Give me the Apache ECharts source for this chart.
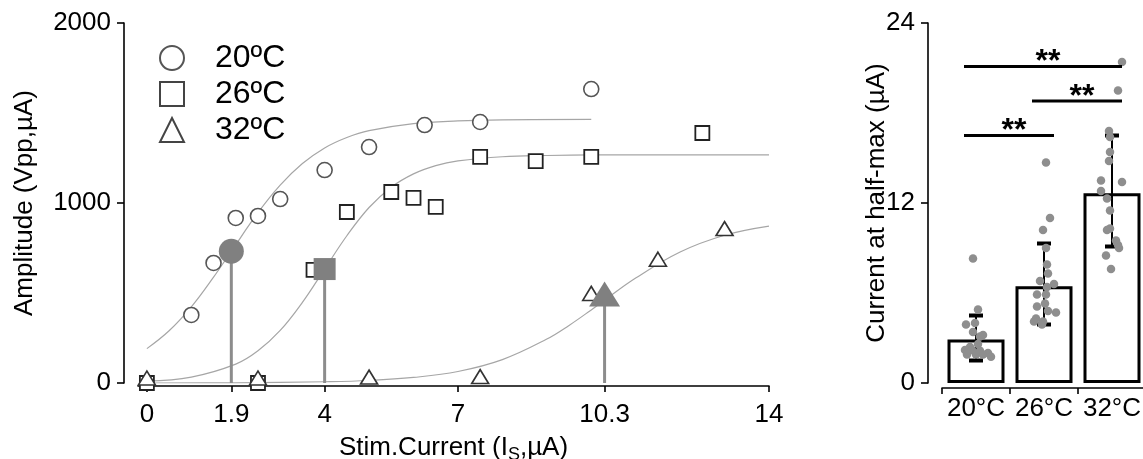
<!DOCTYPE html>
<html><head><meta charset="utf-8">
<script src="https://cdn.jsdelivr.net/npm/echarts@6/dist/echarts.min.js"></script>
<style>html,body{margin:0;padding:0;background:#fff}#c{width:1143px;height:459px}</style>
</head><body><div id="c"></div>
<script>
// ---------------- data: left panel ----------------
const seriesNames = ['20ºC', '26ºC', '32ºC'];
const xTickValues = [0, 1.9, 4, 7, 10.3, 14];
const c20X = [1, 1.5, 2, 2.5, 3, 4, 5, 6.25, 7.5, 10];
const c20Y = [378, 667, 917, 928, 1022, 1183, 1311, 1433, 1450, 1633];
const c26X = [0, 2.5, 3.75, 4.5, 5.5, 6, 6.5, 7.5, 8.75, 10, 12.5];
const c26Y = [0, 0, 628, 950, 1061, 1028, 978, 1256, 1233, 1256, 1389];
const c32X = [0, 2.5, 5, 7.5, 10, 11.5, 13];
const c32Y = [0, 0, 5, 8, 470, 660, 830];
// fitted curves
const fit20X = [0, 0.5, 1, 1.5, 1.9, 2.5, 3, 3.5, 4, 4.5, 5, 6, 7, 8, 10];
const fit20Y = [191, 290, 423, 588, 732, 946, 1099, 1219, 1306, 1364, 1402, 1441, 1456, 1462, 1465];
const fit26X = [0, 1, 2, 2.5, 3, 3.5, 4, 4.5, 5, 5.5, 6, 6.5, 7, 8, 9, 10, 12, 14];
const fit26Y = [10, 33, 105, 179, 292, 448, 633, 818, 975, 1088, 1162, 1208, 1234, 1257, 1264, 1267, 1267, 1267];
const fit32X = [0, 2, 4, 5, 6, 7, 8, 9, 9.5, 10, 10.3, 11, 12, 13, 14];
const fit32Y = [0, 1, 7, 14, 31, 64, 130, 244, 320, 406, 460, 583, 728, 821, 872];
const halfMaxX = [1.9, 4, 10.3];
const halfMaxY = [732, 633, 472];

// ---------------- data: right panel ----------------
const groups = ['20°C', '26°C', '32°C'];
const meanVals = [2.9, 6.45, 12.65];
const errUpper = [4.5, 9.3, 16.5];
const errLower = [1.5, 3.9, 9.1];
const dots20 = [8.3, 4.9, 4.0, 3.9, 3.4, 3.2, 3.1, 2.6, 2.4, 2.2, 2.2, 2.15, 2.0, 1.9, 1.9, 1.9, 1.75];
const dots26 = [14.7, 11.0, 10.2, 9.0, 7.9, 7.3, 6.8, 6.6, 6.4, 5.9, 5.9, 5.3, 5.1, 4.7, 4.8, 4.3, 4.1, 4.1, 3.9];
const dots32 = [21.4, 19.5, 16.8, 16.4, 15.4, 14.8, 13.5, 13.4, 12.8, 12.3, 11.5, 10.3, 10.2, 9.5, 9.2, 9.0, 8.5, 7.6];
const sigFrom = [0, 1, 0];
const sigTo = [2, 2, 1];
const sigLevel = [21.1, 18.8, 16.5];
const sigText = ['**', '**', '**'];

// ---------------- layout (not data) ----------------
const jitterPx = [
  [-3, 2, -1, -10, -3, 7, 4, 2, -6, -11, -4, 4, 12, -9, 0, 7, 15],
  [2, 6, -1, 2, 3, 4, -4, 10, 3, -7, 2, 1, -7, 12, 4, -8, -1, -10, -2],
  [10, 6, -3, -2, -2, -3, -11, 10, -11, -5, -2, -2, -5, 4, 6, 7, -6, -1]
];
const CAT_PX = 68;
const FONT = 'Liberation Sans, Arial, sans-serif';

const zip = (a, b) => a.map((v, i) => [v, b[i]]);
const dotsAll = [dots20, dots26, dots32];
const dotData = [];
dotsAll.forEach((arr, g) => arr.forEach((v, i) => dotData.push([g + jitterPx[g][i] / CAT_PX, v])));

const fitStyle = { color: '#a6a6a6', width: 1.2 };
const axisLineStyle = { color: '#000', width: 1.6 };
const plain = v => String(v);

const chart = echarts.init(document.getElementById('c'), null, { renderer: 'canvas' });
const option = {
  animation: false,
  textStyle: { fontFamily: FONT },
  grid: [
    { left: 138, top: 23, width: 631, height: 360, outerBoundsMode: 'none', containLabel: false },
    { left: 942, top: 23, width: 204, height: 360, outerBoundsMode: 'none', containLabel: false }
  ],
  legend: {
    orient: 'vertical', left: 154, top: 37,
    itemWidth: 24, itemHeight: 24, itemGap: 4,
    selectedMode: false,
    textStyle: { fontSize: 32, color: '#000', fontFamily: FONT, padding: [0, 0, 0, 26], lineHeight: 30 },
    data: [
      { name: seriesNames[0], icon: 'circle', itemStyle: { color: '#fff', borderColor: '#555', borderWidth: 2 } },
      { name: seriesNames[1], icon: 'rect', itemStyle: { color: '#fff', borderColor: '#444', borderWidth: 2 } },
      { name: seriesNames[2], icon: 'triangle', itemStyle: { color: '#fff', borderColor: '#444', borderWidth: 2 } }
    ]
  },
  xAxis: [
    {
      type: 'value', gridIndex: 0, min: -0.2, max: 14, offset: 3,
      name: '{m|Stim.Current (I}{s|S}{m|,µA)}', nameLocation: 'middle', nameGap: 43,
      nameTextStyle: { color: '#000', fontFamily: FONT, rich: {
        m: { fontSize: 26, lineHeight: 27, verticalAlign: 'top', color: '#000', fontFamily: FONT },
        s: { fontSize: 18, lineHeight: 18, padding: [13, 0, 0, 0], color: '#000', fontFamily: FONT }
      } },
      splitLine: { show: false },
      axisLine: { show: true, onZero: false, lineStyle: axisLineStyle },
      axisTick: { show: true, length: 6, lineStyle: axisLineStyle, customValues: xTickValues },
      axisLabel: { fontSize: 26, color: '#000', margin: 16, customValues: xTickValues, fontFamily: FONT, formatter: plain }
    },
    {
      type: 'category', gridIndex: 1, data: groups, offset: 5,
      axisLine: { show: true, onZero: false, lineStyle: axisLineStyle },
      axisTick: { show: true, length: 6, lineStyle: axisLineStyle },
      axisLabel: { fontSize: 26, color: '#000', margin: 8, fontFamily: FONT, interval: 0 }
    },
    { type: 'value', gridIndex: 1, min: -0.5, max: 2.5, show: false }
  ],
  yAxis: [
    {
      type: 'value', gridIndex: 0, min: 0, max: 2000, interval: 1000, offset: 14,
      name: 'Amplitude (Vpp,µA)', nameLocation: 'middle', nameGap: 86,
      nameTextStyle: { fontSize: 26, color: '#000', fontFamily: FONT },
      splitLine: { show: false },
      axisLine: { show: true, onZero: false, lineStyle: axisLineStyle },
      axisTick: { show: true, length: 7, lineStyle: axisLineStyle },
      axisLabel: { fontSize: 26, color: '#000', margin: 13, fontFamily: FONT, formatter: plain }
    },
    {
      type: 'value', gridIndex: 1, min: 0, max: 24, interval: 12, offset: 14,
      name: 'Current at half-max (µA)', nameLocation: 'middle', nameGap: 38, nameMoveOverlap: false,
      nameTextStyle: { fontSize: 26, color: '#000', fontFamily: FONT },
      splitLine: { show: false },
      axisLine: { show: true, onZero: false, lineStyle: axisLineStyle },
      axisTick: { show: true, length: 7, lineStyle: axisLineStyle },
      axisLabel: { fontSize: 26, color: '#000', margin: 13, fontFamily: FONT, formatter: plain }
    }
  ],
  series: [
    // fitted curves
    { type: 'line', xAxisIndex: 0, yAxisIndex: 0, data: zip(fit20X, fit20Y), smooth: 0.4, showSymbol: false, silent: true, lineStyle: fitStyle, z: 1 },
    { type: 'line', xAxisIndex: 0, yAxisIndex: 0, data: zip(fit26X, fit26Y), smooth: 0.4, showSymbol: false, silent: true, lineStyle: fitStyle, z: 1 },
    { type: 'line', xAxisIndex: 0, yAxisIndex: 0, data: zip(fit32X, fit32Y), smooth: 0.4, showSymbol: false, silent: true, lineStyle: fitStyle, z: 1 },
    // open markers
    { name: seriesNames[1], type: 'scatter', xAxisIndex: 0, yAxisIndex: 0, data: zip(c26X, c26Y), symbol: 'rect', symbolSize: 14,
      itemStyle: { color: '#fff', borderColor: '#222', borderWidth: 1.8, opacity: 1 }, z: 3 },
    { name: seriesNames[2], type: 'scatter', xAxisIndex: 0, yAxisIndex: 0, data: zip(c32X, c32Y), symbol: 'triangle', symbolSize: [17, 14], symbolOffset: [0, -5],
      itemStyle: { color: '#fff', borderColor: '#333', borderWidth: 1.6, opacity: 1 }, z: 4 },
    { name: seriesNames[0], type: 'scatter', xAxisIndex: 0, yAxisIndex: 0, data: zip(c20X, c20Y), symbol: 'circle', symbolSize: 15,
      itemStyle: { color: '#fff', borderColor: '#555', borderWidth: 1.6, opacity: 1 }, z: 3 },
    // half-max stems
    ...halfMaxX.map((x, i) => ({
      type: 'line', xAxisIndex: 0, yAxisIndex: 0, data: [[x, 0], [x, halfMaxY[i]]], showSymbol: false, silent: true,
      lineStyle: { color: '#8c8c8c', width: 3 }, z: 5
    })),
    { type: 'scatter', xAxisIndex: 0, yAxisIndex: 0, data: [[halfMaxX[0], halfMaxY[0]]], symbol: 'circle', symbolSize: 25, itemStyle: { color: '#808080', opacity: 1 }, z: 6 },
    { type: 'scatter', xAxisIndex: 0, yAxisIndex: 0, data: [[halfMaxX[1], halfMaxY[1]]], symbol: 'rect', symbolSize: 22, itemStyle: { color: '#808080', opacity: 1 }, z: 6 },
    { type: 'scatter', xAxisIndex: 0, yAxisIndex: 0, data: [[halfMaxX[2], halfMaxY[2]]], symbol: 'triangle', symbolSize: [31, 25], symbolOffset: [0, -4], itemStyle: { color: '#808080', opacity: 1 }, z: 6 },

    // right panel: bars
    { type: 'bar', xAxisIndex: 1, yAxisIndex: 1, data: meanVals, barWidth: 57,
      itemStyle: { color: '#fff', borderColor: '#000', borderWidth: 3 }, z: 2 },
    // error bars
    { type: 'custom', xAxisIndex: 2, yAxisIndex: 1, z: 3,
      data: groups.map((g, i) => [i, errLower[i], errUpper[i]]),
      renderItem: function (params, api) {
        const x = api.value(0);
        const lo = api.coord([x, api.value(1)]);
        const hi = api.coord([x, api.value(2)]);
        return { type: 'group', children: [
          { type: 'line', shape: { x1: lo[0], y1: lo[1], x2: hi[0], y2: hi[1] }, style: { stroke: '#000', lineWidth: 2 } },
          { type: 'rect', shape: { x: hi[0] - 7, y: hi[1] - 2, width: 14, height: 4 }, style: { fill: '#000' } },
          { type: 'rect', shape: { x: lo[0] - 7, y: lo[1] - 2, width: 14, height: 4 }, style: { fill: '#000' } }
        ] };
      }
    },
    // individual points
    { type: 'scatter', xAxisIndex: 2, yAxisIndex: 1, data: dotData, symbol: 'circle', symbolSize: 8.5,
      itemStyle: { color: '#8e8e8e', opacity: 1 }, z: 4 },
    // significance brackets
    { type: 'custom', xAxisIndex: 2, yAxisIndex: 1, z: 5,
      data: sigFrom.map((f, i) => [f, sigTo[i], sigLevel[i], i]),
      renderItem: function (params, api) {
        const a = api.coord([api.value(0), api.value(2)]);
        const b = api.coord([api.value(1), api.value(2)]);
        const x1 = a[0] - 12, x2 = b[0] + 10;
        return { type: 'group', children: [
          { type: 'line', shape: { x1: x1, y1: a[1], x2: x2, y2: a[1] }, style: { stroke: '#000', lineWidth: 3 } },
          { type: 'text', x: (x1 + x2) / 2 + 5, y: a[1] + 12,
            style: { text: sigText[api.value(3)], fontSize: 32, fontWeight: 'bold', fill: '#000', fontFamily: FONT, align: 'center', verticalAlign: 'bottom' } }
        ] };
      }
    }
  ]
};
chart.setOption(option);
</script>
</body></html>
